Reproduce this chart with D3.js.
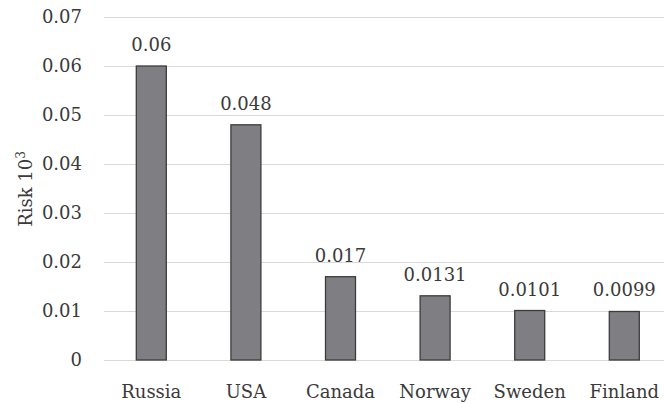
<!DOCTYPE html>
<html>
<head>
<meta charset="utf-8">
<script src="https://cdn.jsdelivr.net/npm/d3@7/dist/d3.min.js"></script>
<style>
  html, body { margin: 0; padding: 0; background: #fff; }
  svg { display: block; }
</style>
</head>
<body>
<svg id="chart" width="664" height="403"></svg>
<script>
// Risk by country
const countries = ["Russia", "USA", "Canada", "Norway", "Sweden", "Finland"];
const riskValues = [0.06, 0.048, 0.017, 0.0131, 0.0101, 0.0099];
const valueLabels = ["0.06", "0.048", "0.017", "0.0131", "0.0101", "0.0099"];
const yTicks = [0, 0.01, 0.02, 0.03, 0.04, 0.05, 0.06, 0.07];
const yTickLabels = ["0", "0.01", "0.02", "0.03", "0.04", "0.05", "0.06", "0.07"];

const FONT = "'DejaVu Serif', serif";
const FS = 18;

const svg = d3.select("#chart")
  .attr("font-family", FONT);

const plot = { left: 104, right: 671.6, top: 17, bottom: 360 };

const x = d3.scaleBand()
  .domain(countries)
  .range([plot.left, plot.right])
  .paddingInner(0.683)
  .paddingOuter(0.3415);

const y = d3.scaleLinear()
  .domain([0, 0.07])
  .range([plot.bottom, plot.top]);

const textColor = "#3a3a3a";

// horizontal gridlines
svg.append("g")
  .selectAll("line")
  .data(yTicks)
  .join("line")
  .attr("x1", plot.left)
  .attr("x2", plot.right)
  .attr("y1", d => Math.round(y(d)) + 0.5)
  .attr("y2", d => Math.round(y(d)) + 0.5)
  .attr("stroke", "#d9d9d9")
  .attr("stroke-width", 1.2);

// y tick labels
svg.append("g")
  .selectAll("text")
  .data(yTicks)
  .join("text")
  .attr("x", 82)
  .attr("y", d => y(d))
  .attr("dy", "0.36em")
  .attr("text-anchor", "end")
  .attr("font-size", FS)
  .attr("fill", textColor)
  .text((d, i) => yTickLabels[i]);

// y axis title
const title = svg.append("text")
  .attr("transform", "translate(32,189) rotate(-90)")
  .attr("text-anchor", "middle")
  .attr("font-size", FS)
  .attr("fill", textColor);
title.append("tspan").text("Risk 10");
title.append("tspan").attr("font-size", 12).attr("dy", -7).text("3");

// bars
svg.append("g")
  .selectAll("rect")
  .data(countries)
  .join("rect")
  .attr("x", d => x(d))
  .attr("y", (d, i) => y(riskValues[i]))
  .attr("width", x.bandwidth())
  .attr("height", (d, i) => y(0) - y(riskValues[i]))
  .attr("fill", "#7f7f83")
  .attr("stroke", "#3c3c3c")
  .attr("stroke-width", 1.3);

// value labels above bars
svg.append("g")
  .selectAll("text")
  .data(countries)
  .join("text")
  .attr("x", d => x(d) + x.bandwidth() / 2)
  .attr("y", (d, i) => y(riskValues[i]) - 15)
  .attr("text-anchor", "middle")
  .attr("font-size", FS)
  .attr("fill", textColor)
  .text((d, i) => valueLabels[i]);

// category labels
svg.append("g")
  .selectAll("text")
  .data(countries)
  .join("text")
  .attr("x", d => x(d) + x.bandwidth() / 2)
  .attr("y", 398)
  .attr("text-anchor", "middle")
  .attr("font-size", FS)
  .attr("fill", textColor)
  .text(d => d);
</script>
</body>
</html>
